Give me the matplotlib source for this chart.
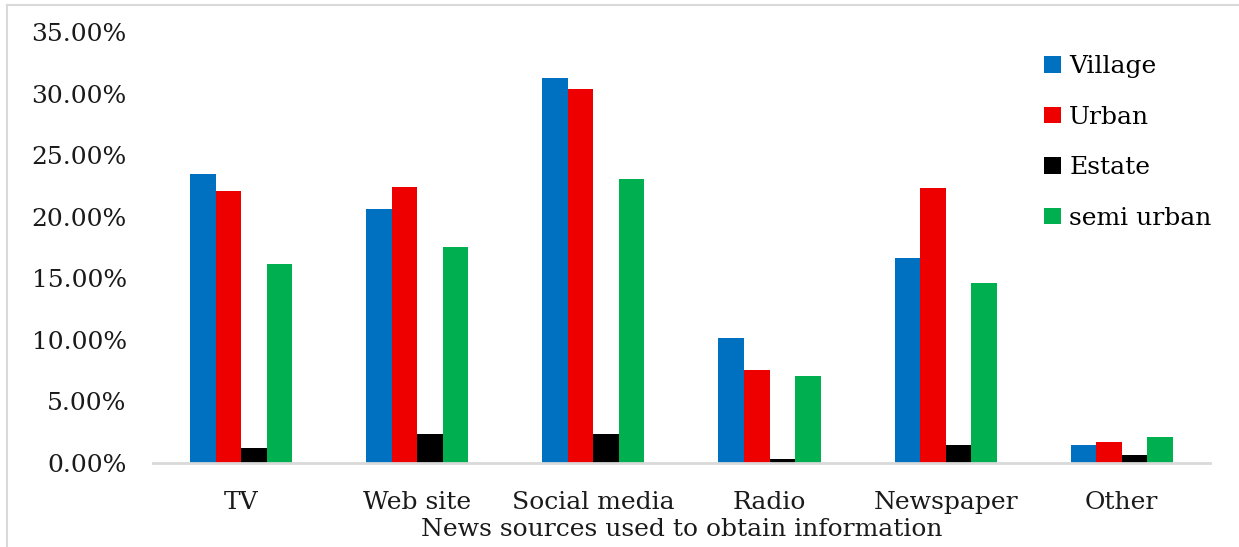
import numpy as np
import matplotlib.pyplot as plt
from matplotlib.lines import Line2D
from matplotlib.ticker import PercentFormatter

plt.rcParams['font.family'] = ['DejaVu Serif']

sources = ['TV', 'Web site', 'Social media', 'Radio', 'Newspaper', 'Other']
village = [23.46, 20.64, 31.26, 10.14, 16.62, 1.44]
urban = [22.10, 22.44, 30.36, 7.55, 22.33, 1.72]
estate = [1.21, 2.34, 2.34, 0.31, 1.44, 0.65]
semi_urban = [16.14, 17.54, 23.04, 7.04, 14.64, 2.11]

series = [('Village', village, '#0070c0'),
          ('Urban', urban, '#ee0000'),
          ('Estate', estate, '#000000'),
          ('semi urban', semi_urban, '#00b050')]

fig = plt.figure(figsize=(12.39, 5.47), dpi=100)
ax = fig.add_axes([0.1235, 0.1536, 0.853, 0.788])

x = np.arange(len(sources))
w = 0.145
for i, (name, vals, col) in enumerate(series):
    ax.bar(x + (i - 1.5) * w, np.array(vals) / 100, w, color=col, label=name,
           linewidth=0)

ax.set_xlim(-0.5, len(sources) - 0.5)
ax.set_ylim(0, 0.35)
ax.set_yticks(np.arange(0, 0.351, 0.05))
ax.yaxis.set_major_formatter(PercentFormatter(1.0, decimals=2))
ax.set_xticks(x)
ax.set_xticklabels(sources)
ax.tick_params(axis='both', length=0, labelsize=18, colors='#1a1a1a')
ax.tick_params(axis='x', pad=20)
ax.tick_params(axis='y', pad=19)

for s in ['top', 'right', 'left']:
    ax.spines[s].set_visible(False)
ax.spines['bottom'].set_color('#d9d9d9')
ax.spines['bottom'].set_linewidth(2)

ax.set_xlabel('News sources used to obtain information', fontsize=18,
              color='#1a1a1a', labelpad=3)

ax.legend(loc='upper left', bbox_to_anchor=(0.822, 0.998), frameon=False,
          fontsize=18, handlelength=0.65, handleheight=0.65,
          handletextpad=0.35, labelspacing=1.1)

# outer chart frame
fig.add_artist(Line2D([7 / 1239, 1], [1 - 5 / 547] * 2, color='#d9d9d9', lw=1.5))
fig.add_artist(Line2D([7 / 1239] * 2, [0, 1 - 5 / 547], color='#d9d9d9', lw=1.5))

fig.savefig('out.png', dpi=100)
